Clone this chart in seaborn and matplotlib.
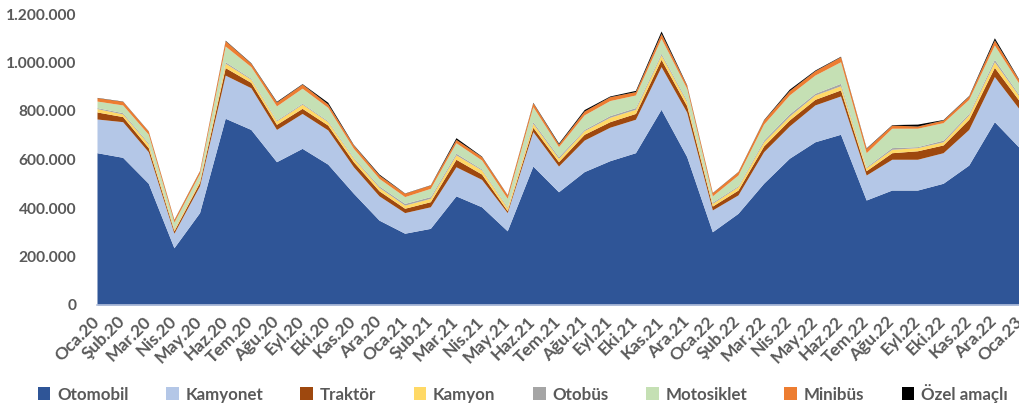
import numpy as np
import pandas as pd
import matplotlib
matplotlib.use("Agg")
import matplotlib.pyplot as plt
from matplotlib.patches import Patch
from matplotlib.ticker import FuncFormatter
import seaborn as sns

# Monthly vehicle counts by type (Oca.20 - Oca.23)
months = ["Oca.20", "Şub.20", "Mar.20", "Nis.20", "May.20", "Haz.20", "Tem.20", "Ağu.20",
          "Eyl.20", "Eki.20", "Kas.20", "Ara.20", "Oca.21", "Şub.21", "Mar.21", "Nis.21",
          "May.21", "Haz.21", "Tem.21", "Ağu.21", "Eyl.21", "Eki.21", "Kas.21", "Ara.21",
          "Oca.22", "Şub.22", "Mar.22", "Nis.22", "May.22", "Haz.22", "Tem.22", "Ağu.22",
          "Eyl.22", "Eki.22", "Kas.22", "Ara.22", "Oca.23"]

otomobil = [628000, 609000, 502000, 236000, 381000, 770000, 724000, 591000, 646000, 581000,
            461000, 350000, 296000, 316000, 450000, 405000, 306000, 573000, 467000, 550000,
            595000, 628000, 807000, 612000, 302000, 378000, 502000, 605000, 673000, 704000,
            433000, 474000, 474000, 502000, 577000, 756000, 646000]
kamyonet = [139000, 147000, 130000, 60000, 111000, 178000, 172000, 133000, 144000, 141000,
            109000, 100000, 85000, 89000, 120000, 113000, 75000, 142000, 106000, 130000,
            138000, 138000, 176000, 183000, 90000, 76000, 130000, 133000, 152000, 158000,
            103000, 127000, 127000, 126000, 147000, 186000, 158000]
traktor = [29000, 21000, 17000, 10000, 14000, 31000, 22000, 21000, 21000, 20000,
           21000, 21000, 18000, 21000, 31000, 22000, 8000, 18000, 18000, 24000,
           23000, 24000, 30000, 27000, 16000, 20000, 24000, 25000, 23000, 25000,
           18000, 27000, 35000, 32000, 42000, 38000, 34000]
kamyon = [14000, 11000, 15000, 7000, 9000, 18000, 13000, 14000, 17000, 14000,
          14000, 14000, 13000, 14000, 18000, 17000, 12000, 16000, 14000, 15000,
          18000, 17000, 18000, 16000, 11000, 14000, 17000, 16000, 18000, 17000,
          12000, 14000, 13000, 13000, 18000, 23000, 18000]
otobus = [4000, 5000, 5000, 3000, 3000, 6000, 4000, 4000, 4000, 4000,
          4000, 6000, 7000, 7000, 7000, 4000, 4000, 7000, 7000, 5000,
          7000, 7000, 7000, 6000, 5000, 4000, 7000, 9000, 7000, 10000,
          4000, 7000, 4000, 7000, 6000, 10000, 6000]
motosiklet = [27000, 32000, 35000, 26000, 25000, 65000, 48000, 58000, 62000, 55000,
              37000, 31000, 28000, 34000, 43000, 37000, 35000, 62000, 41000, 60000,
              62000, 52000, 62000, 49000, 26000, 44000, 66000, 78000, 75000, 89000,
              58000, 80000, 76000, 72000, 58000, 59000, 45000]
minibus = [14000, 15000, 13000, 10000, 11000, 22000, 14000, 16000, 17000, 14000,
           14000, 14000, 14000, 14000, 14000, 14000, 14000, 16000, 11000, 16000,
           16000, 14000, 20000, 13000, 13000, 14000, 17000, 18000, 18000, 21000,
           18000, 13000, 9000, 11000, 14000, 21000, 14000]
ozel_amacli = [1000, 1000, 1000, 1000, 1000, 2000, 2000, 3000, 2000, 7000,
               2000, 4000, 1000, 1000, 7000, 2000, 1000, 2000, 4000, 6000,
               3000, 5000, 10000, 2000, 1000, 1000, 2000, 6000, 3000, 2000,
               2000, 2000, 8000, 2000, 2000, 9000, 2000]

series_names = ["Otomobil", "Kamyonet", "Traktör", "Kamyon", "Otobüs",
                "Motosiklet", "Minibüs", "Özel amaçlı"]
colors = ["#2F5597", "#B4C7E7", "#9E480E", "#FFD966", "#A5A5A5",
          "#C5E0B4", "#ED7D31", "#000000"]

df = pd.DataFrame({
    "Ay": months,
    "Otomobil": otomobil, "Kamyonet": kamyonet, "Traktör": traktor, "Kamyon": kamyon,
    "Otobüs": otobus, "Motosiklet": motosiklet, "Minibüs": minibus,
    "Özel amaçlı": ozel_amacli,
})

sns.set_style("white")
plt.rcParams["font.family"] = ["Lato", "DejaVu Sans"]
text_color = "#595959"

fig = plt.figure(figsize=(10.19, 4.12), dpi=100)
ax = fig.add_axes([97 / 1019, 107 / 412, 923 / 1019, 291 / 412])

x = np.arange(len(months))
ax.stackplot(x, *[df[name].to_numpy() for name in series_names],
             colors=colors, linewidth=0)

ax.set_xlim(0, len(months) - 1)
ax.set_ylim(0, 1200000)
ax.set_yticks(np.arange(0, 1200001, 200000))
ax.yaxis.set_major_formatter(FuncFormatter(lambda v, _: f"{int(v):,}".replace(",", ".")))

ax.set_xticks(x)
ax.set_xticklabels(months, rotation=45, ha="right", va="center", rotation_mode="anchor")

for s in ["top", "right", "left"]:
    ax.spines[s].set_visible(False)
ax.spines["bottom"].set_color("#B4C1DD")
ax.spines["bottom"].set_linewidth(1.2)
ax.spines["bottom"].set_zorder(5)

ax.tick_params(axis="x", length=5, width=1, color="#D9D9D9", pad=5,
               labelsize=12.5, labelcolor=text_color)
ax.tick_params(axis="y", length=0, pad=15, labelsize=11.2, labelcolor=text_color)
for lbl in ax.get_xticklabels() + ax.get_yticklabels():
    lbl.set_fontweight("bold")
ax.grid(False)

handles = [Patch(facecolor=c, edgecolor="none", label=n) for n, c in zip(series_names, colors)]
leg = fig.legend(handles=handles, loc="center", bbox_to_anchor=(0.513, 0.046), ncol=8,
                 frameon=False, handlelength=0.75, handleheight=0.75, handletextpad=0.4,
                 columnspacing=2.2, prop={"weight": "bold", "size": 12.2})
for t in leg.get_texts():
    t.set_color(text_color)

fig.savefig("out.png", dpi=100)
